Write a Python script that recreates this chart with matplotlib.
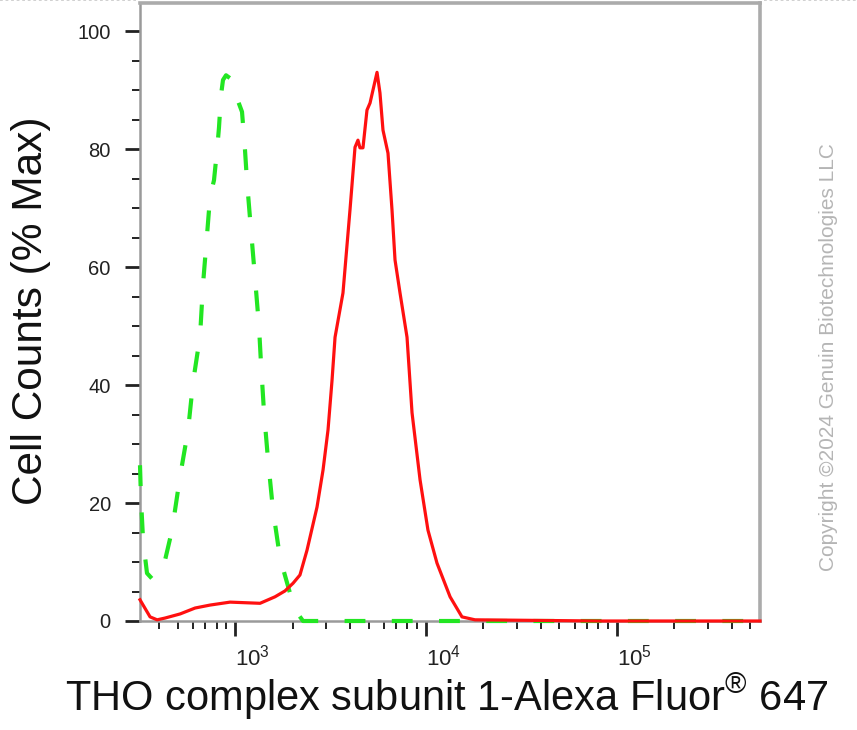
import matplotlib
matplotlib.use("Agg")
import matplotlib.pyplot as plt
from matplotlib.ticker import FixedLocator, LogLocator, NullFormatter, MultipleLocator
from matplotlib.lines import Line2D

# ---------------- data ----------------
# Stained sample (red, solid)
red_x = [318, 326, 359, 391, 430, 516, 618, 740, 942, 1352, 1619, 1827, 2013,
         2188, 2382, 2687, 2890, 3069, 3221, 3340, 3675, 4000, 4249, 4403, 4510,
         4677, 4909, 5093, 5541, 5741, 5954, 6324, 6637, 6883, 7311, 7955, 8450,
         9311, 10240, 11420, 13370, 15430, 18060, 81400, 561000]
red_y = [3.6, 3.0, 0.7, 0.2, 0.5, 1.2, 2.2, 2.7, 3.2, 3.0, 4.1, 5.1, 6.4,
         7.8, 12.0, 19.3, 25.6, 32.4, 40.8, 48.1, 55.6, 69.7, 80.3, 81.5, 80.2,
         80.2, 86.6, 87.8, 93.0, 89.5, 83.2, 79.3, 69.7, 61.2, 55.6, 48.1, 35.3,
         23.9, 15.4, 9.8, 4.1, 0.7, 0.2, 0.0, 0.0]

# Control (green, dashed)
green_x = [318, 322, 330, 346, 372, 405, 430, 468, 516, 568, 603, 656, 680,
           713, 740, 776, 805, 824, 845, 865, 897, 942, 1000, 1088, 1128, 1156,
           1212, 1273, 1336, 1368, 1419, 1489, 1581, 1720, 1941, 2113, 2270,
           561000]
green_y = [26.4, 20.5, 13.7, 8.1, 7.0, 8.6, 10.3, 15.4, 24.6, 32.4, 40.5, 48.3,
           57.1, 65.3, 71.9, 74.7, 79.8, 83.6, 89.2, 91.7, 92.5, 92.0, 89.5,
           86.3, 79.8, 74.4, 66.3, 58.1, 49.8, 43.6, 35.3, 27.3, 18.8, 10.7,
           4.7, 1.4, 0.0, 0.0]

x_major = [1e3, 1e4, 1e5]
x_major_labels = [r"$\mathregular{10^{3}}$", r"$\mathregular{10^{4}}$", r"$\mathregular{10^{5}}$"]
y_major = [0, 20, 40, 60, 80, 100]
y_major_labels = ["0", "20", "40", "60", "80", "100"]

x_label = r"THO complex subunit 1-Alexa Fluor$^{\mathregular{®}}$ 647"
y_label = "Cell Counts (% Max)"
watermark = "Copyright ©2024 Genuin Biotechnologies LLC"

# ---------------- style ----------------
plt.rcParams["font.family"] = ["Liberation Sans", "DejaVu Sans"]
plt.rcParams["mathtext.fontset"] = "custom"
plt.rcParams["mathtext.rm"] = "Liberation Sans"
plt.rcParams["lines.scale_dashes"] = False
narrow = ["Liberation Sans Narrow", "Liberation Sans", "DejaVu Sans"]

W, H = 857, 730
fig = plt.figure(figsize=(W / 100, H / 100), dpi=100)
ax = fig.add_axes([140 / W, 109 / H, 620 / W, 618 / H])

ax.plot(green_x, green_y, color="#22e622", lw=3.0, dashes=(15, 19),
        solid_capstyle="butt", dash_capstyle="butt", clip_on=False, zorder=3)
ax.plot(red_x, red_y, color="#ff1010", lw=2.3, clip_on=False, zorder=4)

ax.set_xscale("log")
ax.set_xlim(318, 561000)
ax.set_ylim(0, 104.75)

ax.xaxis.set_major_locator(FixedLocator(x_major))
ax.xaxis.set_minor_locator(LogLocator(base=10, subs=[2, 3, 4, 5, 6, 7, 8, 9], numticks=20))
ax.xaxis.set_minor_formatter(NullFormatter())
ax.set_xticklabels(x_major_labels)
ax.set_yticks(y_major)
ax.set_yticklabels(y_major_labels)
ax.yaxis.set_minor_locator(MultipleLocator(5))

ax.tick_params(axis="both", which="major", direction="out", length=11, width=2.0,
               color="#222222")
ax.tick_params(axis="both", which="minor", direction="out", length=6, width=1.4,
               color="#222222")
ax.tick_params(axis="y", which="major", pad=10)
ax.tick_params(axis="x", which="major", pad=6)

for lab in ax.get_yticklabels():
    lab.set_fontfamily(narrow)
    lab.set_fontsize(14.5)
    lab.set_color("#222222")
for lab in ax.get_xticklabels():
    lab.set_fontfamily(narrow)
    lab.set_fontsize(16)
    lab.set_color("#222222")
    lab.set_horizontalalignment("left")

for side in ["left", "bottom"]:
    ax.spines[side].set_color("#9a9a9a")
    ax.spines[side].set_linewidth(1.8)
for side in ["top", "right"]:
    ax.spines[side].set_color("#ababab")
    ax.spines[side].set_linewidth(2.6)

# axis titles
fig.text(447 / W, 1 - 711 / H, x_label, fontsize=30, ha="center", va="baseline",
         color="#111111")
fig.text(31 / W, 1 - 311 / H, y_label, fontsize=30.5, rotation=90, ha="center",
         va="center", color="#111111")

# watermark
fig.text(829 / W, 1 - 357 / H, watermark, fontsize=15, rotation=90, ha="center",
         va="center", color="#b5b5b5")

# dotted frame edge at the very top
fig.add_artist(Line2D([0, 136 / W], [0.9995, 0.9995], transform=fig.transFigure,
                      color="#c8c8c8", lw=1.2, dashes=(2, 2)))
fig.add_artist(Line2D([764 / W, 1], [0.9995, 0.9995], transform=fig.transFigure,
                      color="#c8c8c8", lw=1.2, dashes=(2, 2)))

fig.savefig("out.png", dpi=100)
